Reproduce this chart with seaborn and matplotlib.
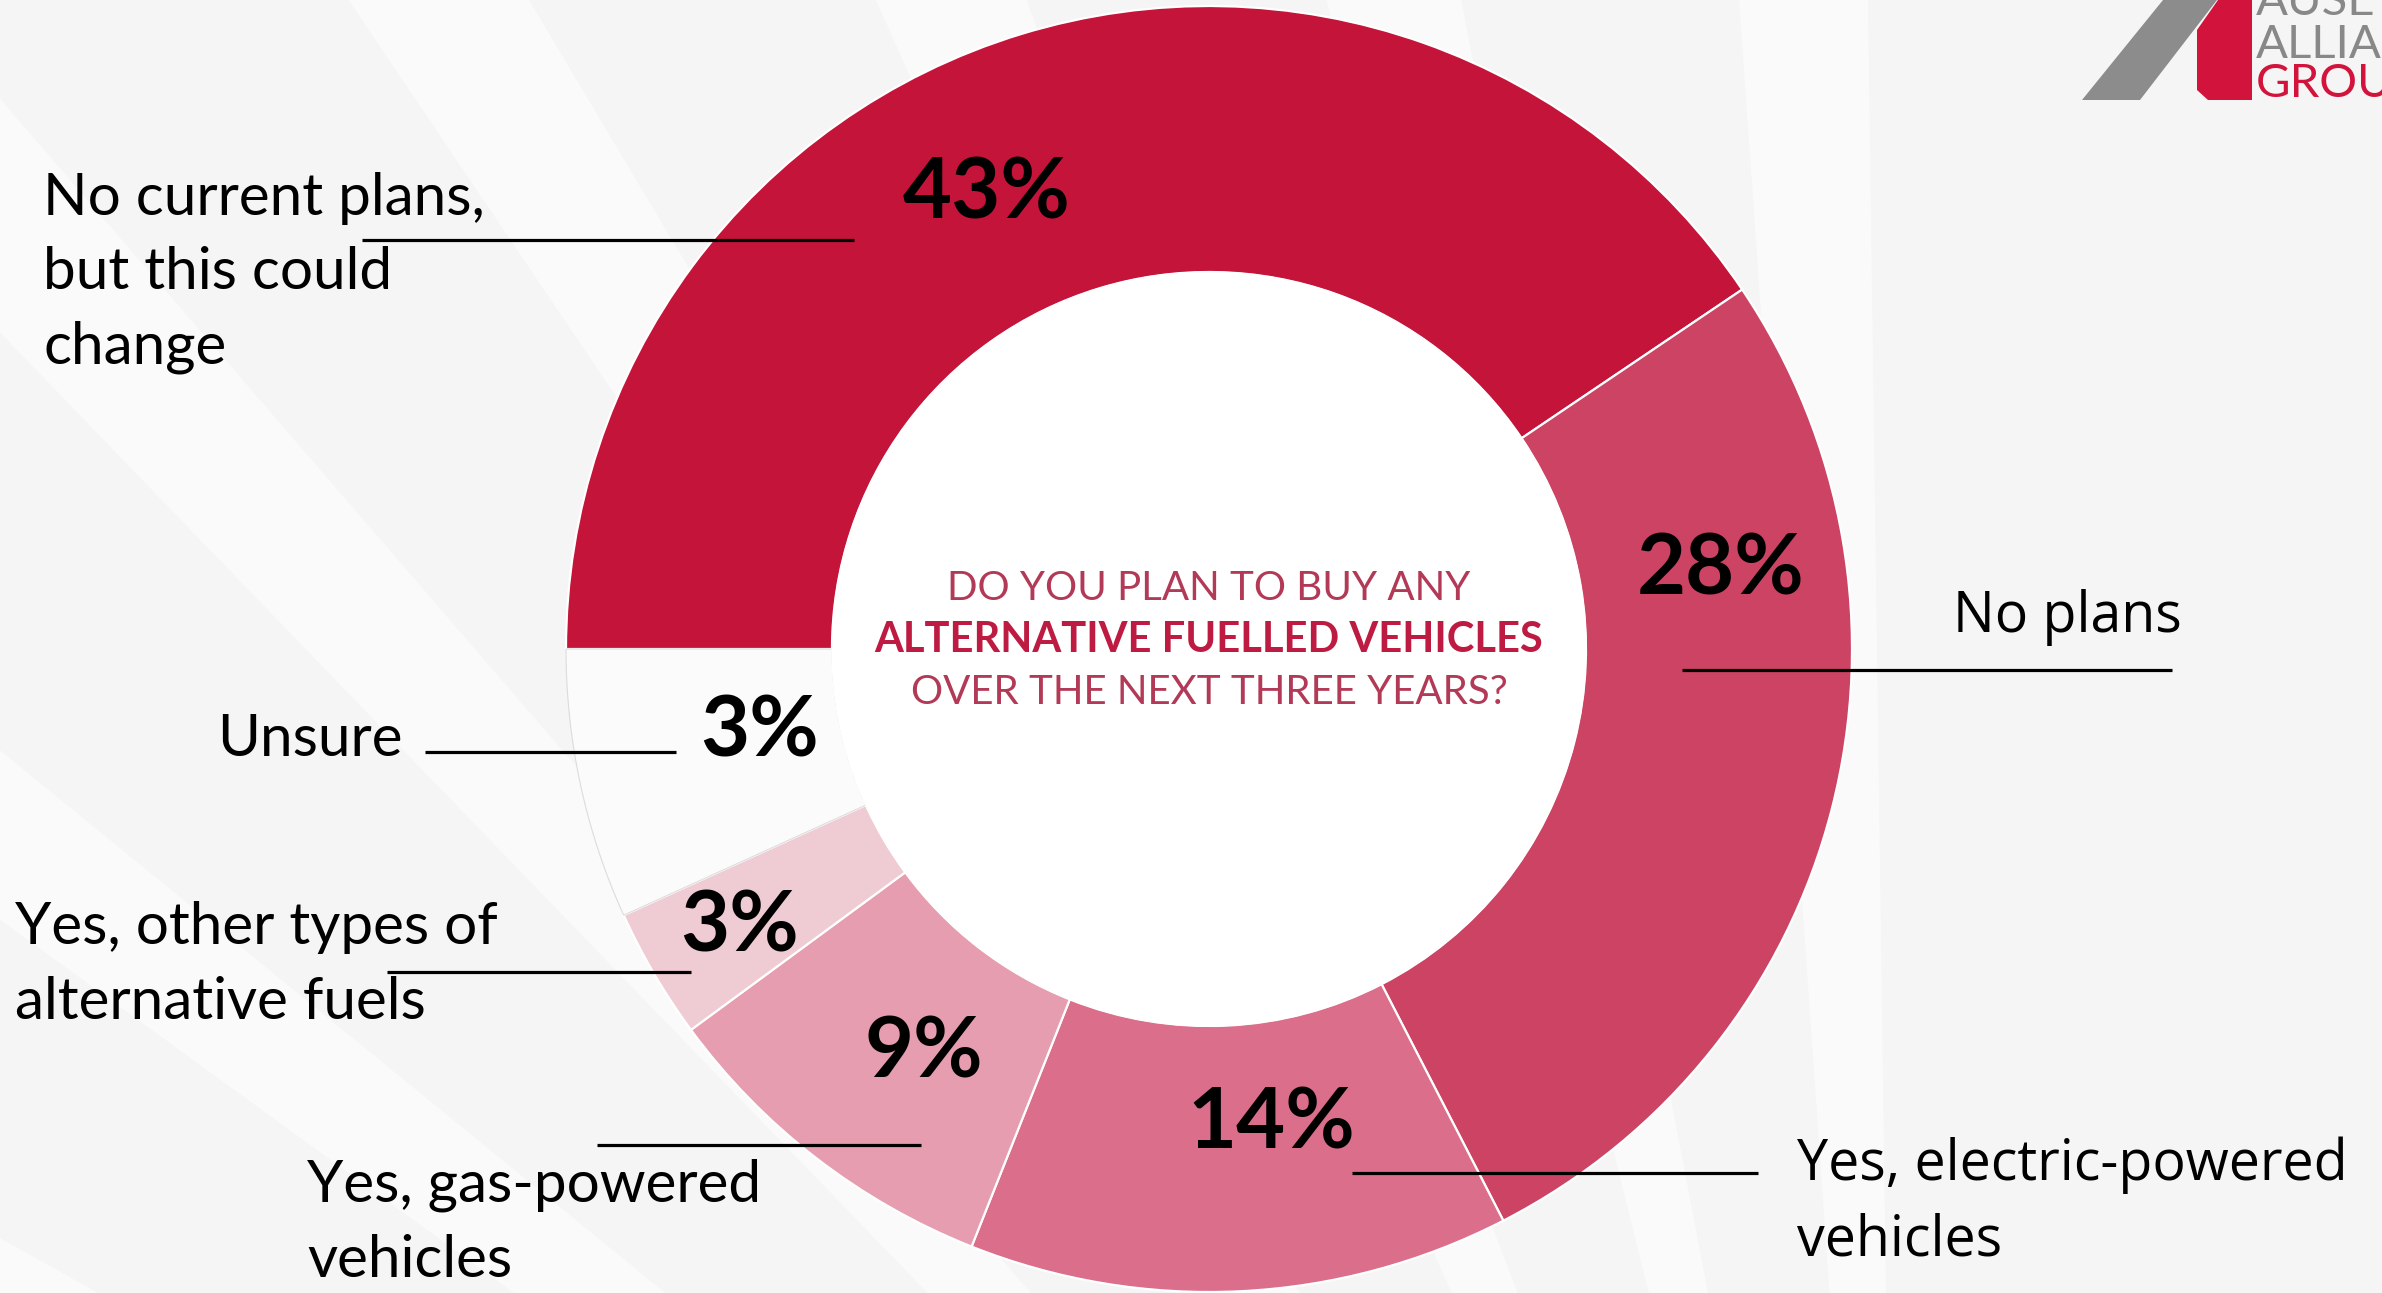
import matplotlib
matplotlib.use("Agg")
import matplotlib.pyplot as plt
import seaborn as sns
import numpy as np
from matplotlib.patches import Wedge, Circle, Polygon

# survey answers, clockwise from 9 o'clock
answers = ["No current plans,\nbut this could\nchange", "No plans",
           "Yes, electric-powered\nvehicles", "Yes, gas-powered\nvehicles",
           "Yes, other types of\nalternative fuels", "Unsure"]
pct_labels = ["43%", "28%", "14%", "9%", "3%", "3%"]
# wedge sizes as drawn in the picture
shares = [40.6, 26.9, 13.6, 8.9, 3.3, 6.8]
colors = ["#C41439", "#CC4363", "#DB6E8A", "#E59DAF", "#EFCBD4", "#FCFCFC"]

sns.set_theme(style="white")
plt.rcParams["font.family"] = ["Lato", "DejaVu Sans"]

W, H = 2382, 1293
fig = plt.figure(figsize=(W / 100, H / 100), dpi=100)
fig.patch.set_facecolor("#f5f5f5")
ax = fig.add_axes([0, 0, 1, 1])
ax.set_facecolor("#f5f5f5")

# soft fan of stripes in the background
for i, a in enumerate(np.arange(186, 276, 5)):
    if i % 2 == 0:
        ax.add_patch(Wedge((1900, 2300), 4000, a, a + 3.2,
                           color="white", alpha=0.55, lw=0, zorder=0))

cx, cy, r_out, r_in = 1209, 649, 643, 377
wedges, _ = ax.pie(shares, colors=colors, startangle=180, counterclock=True,
                   radius=r_out, center=(cx, cy),
                   wedgeprops=dict(width=r_out - r_in, edgecolor="white",
                                   linewidth=1.6))
wedges[-1].set_alpha(0.88)
wedges[-1].set_edgecolor("#d8d8d8")
wedges[-1].set_linewidth(0.8)
ax.add_patch(Circle((cx, cy), r_in, color="white", zorder=3))

ax.set_xlim(0, W)
ax.set_ylim(H, 0)
ax.set_aspect("auto")
ax.axis("off")

# percentage labels
pct_pos = [(987, 194), (1721, 570), (1271, 1124), (924, 1053), (740, 927), (760, 732)]
for (x, y), t in zip(pct_pos, pct_labels):
    ax.text(x, y, t, fontsize=61, fontweight="bold", color="black",
            ha="center", va="center", zorder=5)

# answer labels and leader lines
left_font = dict(fontsize=42, color="black", linespacing=1.5, zorder=5)
right_font = dict(fontsize=40, color="black", linespacing=1.45, zorder=5,
                  family=["Open Sans", "DejaVu Sans"])
ax.text(43, 273, answers[0], ha="left", va="center", **left_font)
ax.text(1953, 617, answers[1], ha="left", va="center", **right_font)
ax.text(1797, 1203, answers[2], ha="left", va="center", **right_font)
ax.text(307, 1223, answers[3], ha="left", va="center", **left_font)
ax.text(15, 965, answers[4], ha="left", va="center", **left_font)
ax.text(217, 740, answers[5], ha="left", va="center", **left_font)

leaders = [(362, 854, 240), (1682, 2172, 670), (1352, 1758, 1173),
           (597, 921, 1145), (387, 691, 972), (425, 676, 752)]
for x1, x2, y in leaders:
    ax.plot([x1, x2], [y, y], color="black", lw=2.3, zorder=4,
            solid_capstyle="butt")

# question in the middle of the ring
ax.text(cx, 588, "DO YOU PLAN TO BUY ANY", fontsize=29, fontweight="normal",
        color="#B23A57", ha="center", va="center", zorder=6)
ax.text(cx, 640, "ALTERNATIVE FUELLED VEHICLES", fontsize=30,
        fontweight="bold", color="#BE1B42", ha="center", va="center", zorder=6)
ax.text(cx, 693, "OVER THE NEXT THREE YEARS?", fontsize=29, fontweight="normal",
        color="#B23A57", ha="center", va="center", zorder=6)

# logo corner (cut off by the frame)
ax.add_patch(Polygon([(2082, 100), (2140, 100), (2217, 0), (2163, 0)],
                     closed=True, color="#8c8c8c", lw=0, zorder=2))
ax.add_patch(Polygon([(2218, 0), (2252, 0), (2252, 100), (2208, 100),
                      (2197, 90), (2197, 30)],
                     closed=True, color="#D2143C", lw=0, zorder=2))
ax.text(2256, 15, "AUSE", fontsize=34, color="#888888", ha="left",
        va="baseline", zorder=3)
ax.text(2256, 58, "ALLIA", fontsize=34, color="#888888", ha="left",
        va="baseline", zorder=3)
ax.text(2256, 97, "GROU", fontsize=34, color="#D2143C", ha="left",
        va="baseline", zorder=3)

fig.savefig("out.png", dpi=100, facecolor=fig.get_facecolor())
